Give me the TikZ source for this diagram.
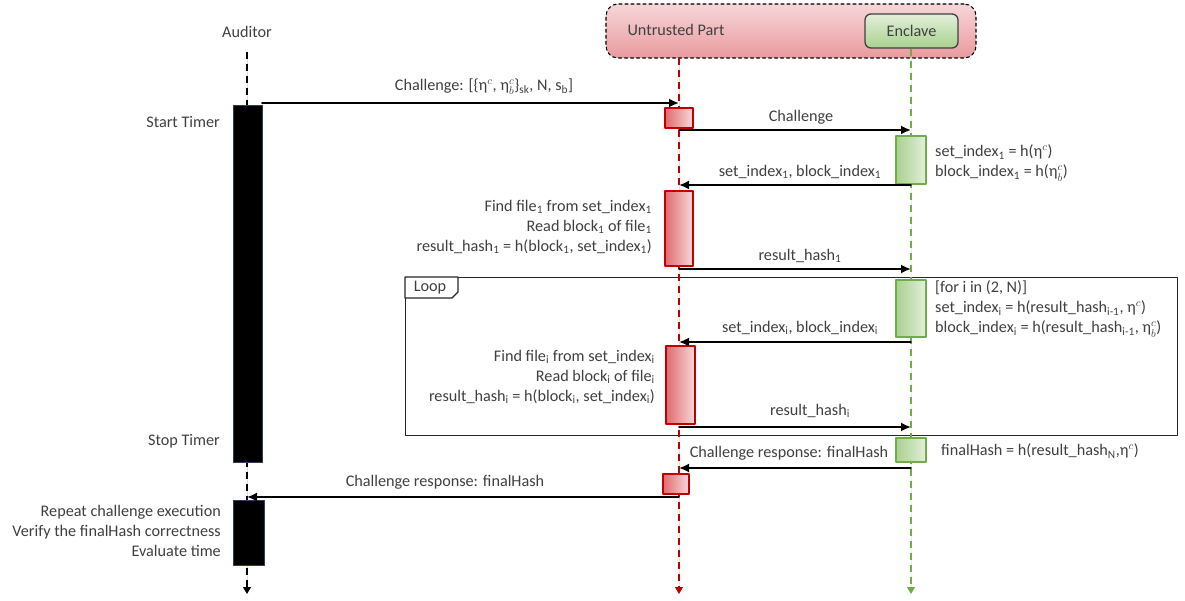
\documentclass[tikz,border=0pt]{standalone}
\usepackage{fontspec}
\setmainfont{Carlito}
\usetikzlibrary{arrows.meta,positioning}
\definecolor{seqInk}{HTML}{404040}
\definecolor{seqRed}{HTML}{C00000}
\definecolor{seqRedDark}{HTML}{E06A6E}
\definecolor{seqRedLight}{HTML}{F8DADB}
\definecolor{seqPartTop}{HTML}{F6D6D8}
\definecolor{seqPartBot}{HTML}{E99A9E}
\definecolor{seqGreen}{HTML}{70AD47}
\definecolor{seqGreenDark}{HTML}{A9D18E}
\definecolor{seqGreenLight}{HTML}{E2EFDA}
\definecolor{seqNavy}{HTML}{2F3E5C}
\newcommand{\etaC}{$\mbox{η}^{c}$}
\newcommand{\etaBC}{$\mbox{η}^{c}_{b}$}

\begin{document}
\begin{tikzpicture}[x=1pt,y=-1pt,>=Latex,line cap=round,line join=round]
\path[fill=white] (0,0) rectangle (1185,601);
\tikzset{lbl/.style={text=seqInk,font=\fontsize{16.2}{20}\selectfont,inner sep=1pt},msg/.style={draw=black,line width=1.8pt,-{Latex[length=10pt,width=9pt]}},life/.style={line cap=butt,dash pattern=on 7pt off 5pt,line width=1.2pt,-{Triangle[length=7pt,width=8pt]}},audbar/.style={draw=seqNavy,fill=black,line width=1pt,inner sep=0pt,outer sep=0pt},utbar/.style={draw=seqRed,line width=1.1pt,left color=seqRedDark,right color=seqRedLight,inner sep=0pt,outer sep=0pt},enbar/.style={draw=seqGreen,line width=1.1pt,left color=seqGreenDark,right color=seqGreenLight,inner sep=0pt,outer sep=0pt},partbox/.style={draw=black,dashed,line width=1.1pt,rounded corners=12pt,top color=seqPartTop,bottom color=seqPartBot,inner sep=0pt},enclbox/.style={draw=seqInk,line width=1.3pt,rounded corners=6pt,top color=seqGreenLight,bottom color=seqGreenDark,text=seqInk,font=\fontsize{16.2}{20}\selectfont},loopframe/.style={draw=black!85,line width=1.3pt}}
\node[loopframe,anchor=north west,minimum width=772pt,minimum height=158pt,inner sep=0pt] (loop) at (405,277) {};
\draw[loopframe,fill=white] (loop.north west) -- ++(53,0) -- ++(0,15) -- ++(-6,6) -- ++(-47,0) -- cycle;
\node[lbl] (looplbl) at (430,288) {Loop};
\node[lbl] (aud) at (247,32) {Auditor};
\node[partbox,minimum width=370pt,minimum height=54pt] (part) at (791,31) {};
\node[lbl] (partlbl) at (676,30) {Untrusted Part};
\node[enclbox,minimum width=93pt,minimum height=34pt] (encl) at (911.5,31) {Enclave};
\coordinate (audTop) at (247,52); \coordinate (audEnd) at (247,594);
\coordinate (utTop) at (679,58); \coordinate (utEnd) at (679,594);
\coordinate (enEnd) at (911,594);
\draw[life,draw=black,fill=black] (audTop) -- (audEnd);
\draw[life,draw=seqRed,fill=seqRed] (utTop) -- (utEnd);
\draw[life,draw=seqGreen,fill=seqGreen] (encl.south -| enEnd) -- (enEnd);
\node[audbar,minimum width=29pt,minimum height=356pt] (timer) at (247.5,284) {};
\node[audbar,minimum width=31pt,minimum height=65pt] (check) at (248.5,532.5) {};
\node[utbar,minimum width=28pt,minimum height=20pt] (ut1) at (679,118) {};
\node[utbar,minimum width=28pt,minimum height=75pt] (ut2) at (679,228.5) {};
\node[utbar,minimum width=29pt,minimum height=78pt] (ut3) at (680.5,385) {};
\node[utbar,minimum width=26pt,minimum height=20pt] (ut4) at (676,484) {};
\node[enbar,minimum width=30pt,minimum height=48pt] (en1) at (911,160) {};
\node[enbar,minimum width=30pt,minimum height=57pt] (en2) at (911,308.5) {};
\node[enbar,minimum width=30pt,minimum height=24pt] (en3) at (911,450) {};
\coordinate (m1s) at (262,103); \coordinate (m1e) at (679,103);
\coordinate (m2s) at (679,130); \coordinate (m2e) at (911,130);
\coordinate (m3s) at (911,185); \coordinate (m3e) at (679,185);
\coordinate (m4s) at (679,269); \coordinate (m4e) at (911,269);
\coordinate (m5s) at (911,342); \coordinate (m5e) at (679,342);
\coordinate (m6s) at (679,427); \coordinate (m6e) at (911,427);
\coordinate (m7s) at (911,468); \coordinate (m7e) at (679,468);
\coordinate (m8s) at (679,497); \coordinate (m8e) at (247,497);
\draw[msg] (m1s) -- (m1e); \draw[msg] (m2s) -- (m2e); \draw[msg] (m3s) -- (m3e); \draw[msg] (m4s) -- (m4e);
\draw[msg] (m5s) -- (m5e); \draw[msg] (m6s) -- (m6e); \draw[msg] (m7s) -- (m7e); \draw[msg] (m8s) -- (m8e);
\node[lbl] (l1) at (484,87) {Challenge: [\{\etaC, \etaBC\}\textsubscript{sk}, N, s\textsubscript{b}]};
\node[lbl] (l2) at (801,117) {Challenge};
\node[lbl] (l3) at (800,172) {set\_index\textsubscript{1}, block\_index\textsubscript{1}};
\node[lbl] (l4) at (800,256) {result\_hash\textsubscript{1}};
\node[lbl] (l5) at (800,328) {set\_index\textsubscript{i}, block\_index\textsubscript{i}};
\node[lbl] (l6) at (810,411) {result\_hash\textsubscript{i}};
\node[lbl] (l7) at (789,453) {Challenge response: finalHash};
\node[lbl] (l8) at (445,482) {Challenge response: finalHash};
\node[lbl,anchor=east] (start) at (221,122) {Start Timer};
\node[lbl,anchor=east] (stop) at (221,441) {Stop Timer};
\node[lbl,anchor=east,align=right] (evaltxt) at (222,531) {Repeat challenge execution\\Verify the finalHash correctness\\Evaluate time};
\node[lbl,anchor=east,align=right] (ut2txt) at (653,227) {Find file\textsubscript{1} from set\_index\textsubscript{1}\\Read block\textsubscript{1} of file\textsubscript{1}\\result\_hash\textsubscript{1} = h(block\textsubscript{1}, set\_index\textsubscript{1})};
\node[lbl,anchor=east,align=right] (ut3txt) at (656,377) {Find file\textsubscript{i} from set\_index\textsubscript{i}\\Read block\textsubscript{i} of file\textsubscript{i}\\result\_hash\textsubscript{i} = h(block\textsubscript{i}, set\_index\textsubscript{i})};
\node[lbl,anchor=west,align=left] (en1txt) at (934,163) {set\_index\textsubscript{1} = h(\etaC)\\block\_index\textsubscript{1} = h(\etaBC)};
\node[lbl,anchor=west,align=left] (en2txt) at (934,309) {[for i in (2, N)]\\set\_index\textsubscript{i} = h(result\_hash\textsubscript{i-1}, \etaC)\\block\_index\textsubscript{i} = h(result\_hash\textsubscript{i-1}, \etaBC)};
\node[lbl,anchor=west] (en3txt) at (940,451) {finalHash = h(result\_hash\textsubscript{N},\etaC)};
\end{tikzpicture}
\end{document}
